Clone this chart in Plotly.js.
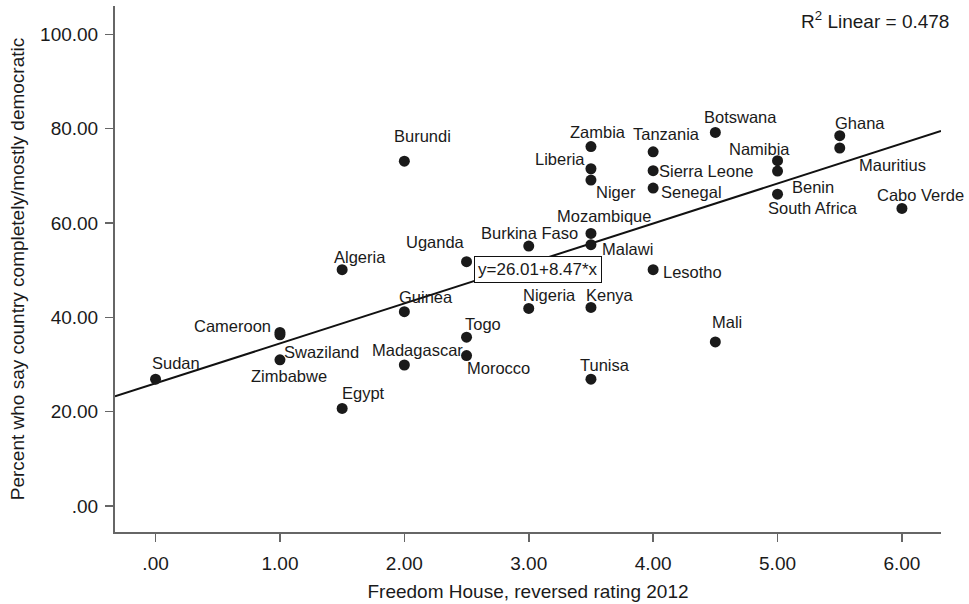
<!DOCTYPE html>
<html>
<head>
<meta charset="utf-8">
<script src="https://cdn.plot.ly/plotly-3.0.1.min.js"></script>
<style>
html,body{margin:0;padding:0;background:#fff;}
#chart{width:969px;height:604px;}
</style>
</head>
<body>
<div id="chart"></div>
<script>
// ---- data ----
const countries = [
  "Sudan","Cameroon","Swaziland","Zimbabwe","Algeria","Egypt","Burundi","Guinea",
  "Madagascar","Uganda","Togo","Morocco","Burkina Faso","Nigeria","Zambia","Liberia",
  "Niger","Mozambique","Malawi","Kenya","Tunisa","Tanzania","Sierra Leone","Senegal",
  "Lesotho","Botswana","Mali","Namibia","Benin","South Africa","Ghana","Mauritius","Cabo Verde"
];
const freedomHouse = [
  0.0, 1.0, 1.0, 1.0, 1.5, 1.5, 2.0, 2.0,
  2.0, 2.5, 2.5, 2.5, 3.0, 3.0, 3.5, 3.5,
  3.5, 3.5, 3.5, 3.5, 3.5, 4.0, 4.0, 4.0,
  4.0, 4.5, 4.5, 5.0, 5.0, 5.0, 5.5, 5.5, 6.0
];
const percentDemocratic = [
  26.9, 36.8, 36.3, 31.0, 50.1, 20.7, 73.1, 41.2,
  29.9, 51.8, 35.8, 31.9, 55.1, 41.9, 76.2, 71.5,
  69.1, 57.8, 55.4, 42.1, 26.9, 75.1, 71.1, 67.4,
  50.1, 79.2, 34.8, 73.2, 71.0, 66.1, 78.5, 75.9, 63.1
];
const fitIntercept = 26.01;
const fitSlope = 8.47;
const rSquared = 0.478;

const xTickVals = [0, 1, 2, 3, 4, 5, 6];
const xTickText = [".00", "1.00", "2.00", "3.00", "4.00", "5.00", "6.00"];
const yTickVals = [0, 20, 40, 60, 80, 100];
const yTickText = [".00", "20.00", "40.00", "60.00", "80.00", "100.00"];

// ---- label placement (pixel shifts from each point) ----
const labelShift = [
  [20, 16], [-47, 6], [42, -17], [9, -16], [18, 13], [21, 15], [18, 25], [22, 15],
  [13, 15], [-31, 20], [16, 13], [32, -12], [1, 13], [21, 13], [7, 15], [-31, 10],
  [25, -12], [13, 17], [37, -4], [19, 12], [14, 14], [13, 18], [53, 0], [38, -4],
  [39, -2], [25, 15], [12, 20], [-18, 12], [35, -16], [35, -14], [20, 13], [53, -17], [19, 13]
];

const xRange = [-0.326, 6.314];
const yRange = [-5.5, 106.0];
const FONT = '"Liberation Sans", Arial, Helvetica, sans-serif';
const INK = '#1a1a1a';

const fitX = [xRange[0], xRange[1]];
const fitY = fitX.map(v => fitIntercept + fitSlope * v);

const traces = [
  {
    x: fitX, y: fitY, type: 'scatter', mode: 'lines',
    line: {color: '#111', width: 2}, hoverinfo: 'skip', showlegend: false
  },
  {
    x: freedomHouse, y: percentDemocratic, text: countries, type: 'scatter', mode: 'markers',
    marker: {color: INK, size: 11}, showlegend: false
  }
];

const annotations = countries.map((c, i) => ({
  x: freedomHouse[i], y: percentDemocratic[i], xref: 'x', yref: 'y',
  text: c, showarrow: false, xanchor: 'center', yanchor: 'middle',
  xshift: labelShift[i][0], yshift: labelShift[i][1],
  font: {family: FONT, size: 16.5, color: INK}
}));

annotations.push({
  x: 3.075, y: 50.2, xref: 'x', yref: 'y',
  text: 'y=' + fitIntercept.toFixed(2) + '+' + fitSlope.toFixed(2) + '*x',
  showarrow: false, xanchor: 'center', yanchor: 'middle',
  bordercolor: '#111', borderwidth: 1, borderpad: 3, bgcolor: '#fff',
  font: {family: FONT, size: 17, color: INK}
});

annotations.push({
  x: 1.012, y: 0.973, xref: 'paper', yref: 'paper',
  text: 'R<sup>2</sup> Linear = ' + rSquared.toFixed(3),
  showarrow: false, xanchor: 'right', yanchor: 'middle',
  font: {family: FONT, size: 19, color: INK}
});

const layout = {
  width: 969, height: 604,
  margin: {l: 115, r: 28, t: 6, b: 72},
  paper_bgcolor: '#fff', plot_bgcolor: '#fff',
  font: {family: FONT, color: INK},
  showlegend: false,
  xaxis: {
    range: xRange, tickvals: xTickVals, ticktext: xTickText,
    showgrid: false, zeroline: false, showline: true,
    linecolor: '#666', linewidth: 2, ticks: 'outside', ticklen: 8, tickwidth: 1.5, tickcolor: '#666',
    ticklabelstandoff: 5,
    tickfont: {family: FONT, size: 19, color: INK},
    title: {text: 'Freedom House, reversed rating 2012', font: {family: FONT, size: 19, color: INK}, standoff: 12},
    automargin: false, fixedrange: true
  },
  yaxis: {
    range: yRange, tickvals: yTickVals, ticktext: yTickText,
    showgrid: false, zeroline: false, showline: true,
    linecolor: '#666', linewidth: 2, ticks: 'outside', ticklen: 8, tickwidth: 1.5, tickcolor: '#666',
    ticklabelstandoff: 3,
    tickfont: {family: FONT, size: 19, color: INK},
    title: {text: 'Percent who say country completely/mostly democratic', font: {family: FONT, size: 19, color: INK}, standoff: 10},
    automargin: false, fixedrange: true
  },
  annotations: annotations
};

Plotly.newPlot('chart', traces, layout, {displayModeBar: false, staticPlot: true});
</script>
</body>
</html>
